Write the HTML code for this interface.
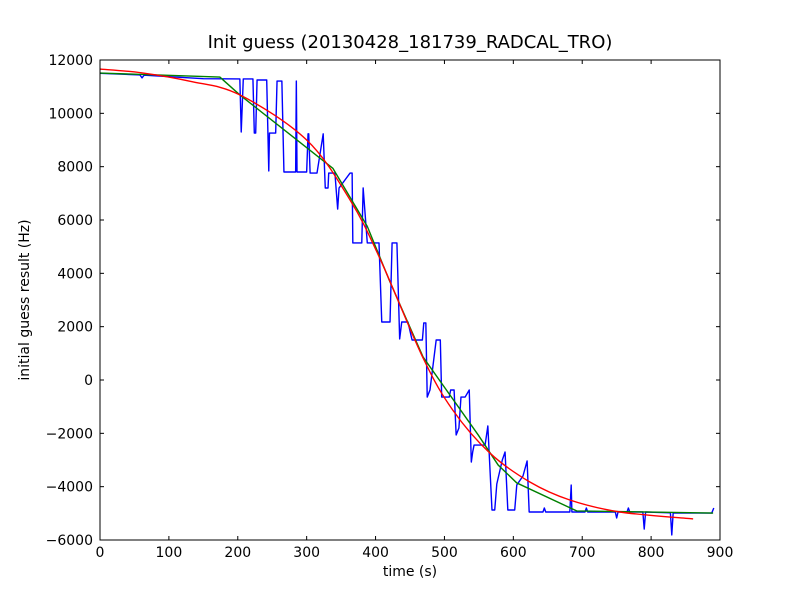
<!DOCTYPE html>
<html><head><meta charset="utf-8"><style>
body{margin:0;background:#fff;}
svg{display:block;font-family:"DejaVu Sans","Liberation Sans",sans-serif;}
</style></head><body>
<svg id="chart" width="800" height="600" viewBox="0 0 800 600">
<rect x="0" y="0" width="800" height="600" fill="#fff"/>
<text x="410" y="48" text-anchor="middle" font-size="18">Init guess (20130428_181739_RADCAL_TRO)</text>
<text x="410" y="576" text-anchor="middle" font-size="14">time (s)</text>
<text transform="translate(29,300) rotate(-90)" text-anchor="middle" font-size="14">initial guess result (Hz)</text>
<g id="plot"></g>
</svg>
<script>
const xTicks=[0,100,200,300,400,500,600,700,800,900];
const yTicks=[-6000,-4000,-2000,0,2000,4000,6000,8000,10000,12000];
const blueT=[0,58,61,64,150,203,205,208,222,224,226,228,242,245,246,255,257,264,267,284,285,286,300,302,303,305,315,324,327,331,332,341,345,347,363,366,367,380,382,388,405,409,421,424,431,435,438,447,453,468,470,473,475,479,488,494,496,507,509,514,517,521,524,530,536,539,541,543,559,563,569,573,576,584,588,592,602,605,614,620,623,643,645,647,682,684,685,704,706,708,748,750,752,765,767,769,788,790,792,828,830,832,888,891];
const blueV=[11500,11440,11330,11430,11300,11290,9300,11290,11290,9260,9260,11250,11250,7840,9260,9260,11210,11210,7800,7800,11210,7800,7800,9230,9230,7760,7760,9230,7200,7200,7760,7760,6410,7200,7760,7760,5140,5140,7200,5140,5140,2175,2175,5140,5140,1540,2175,2175,1500,1500,2140,2140,-640,-375,1500,1500,-640,-640,-375,-375,-2060,-1800,-640,-640,-375,-3075,-2700,-2440,-2440,-1725,-4875,-4875,-3900,-3000,-2700,-4875,-4875,-3937,-3600,-3037,-4950,-4950,-4800,-4950,-4950,-3940,-4950,-4950,-4800,-4950,-4950,-5175,-4950,-4950,-4800,-4950,-4950,-5590,-4950,-4980,-5810,-4990,-4990,-4800];
const greenT=[0,174,203,338,388,421,469,549,578,605,692,890];
const greenV=[11510,11360,10690,7940,5760,3675,860,-2060,-3190,-3860,-4910,-4990];
const redT=[0,60,131,203,300,363,406,469,512,566,624,682,755,861];
const redV=[11660,11520,11200,10690,9000,6750,4575,825,-1125,-2740,-3825,-4500,-4950,-5210];

const X0=100,X1=720,Y0=540,Y1=60;
const xs=t=>X0+(t-0)/(900-0)*(X1-X0);
const ys=v=>Y0-(v+6000)/18000*(Y0-Y1);
const NS="http://www.w3.org/2000/svg";
const g=document.getElementById('plot');
function mk(tag,attrs){const e=document.createElementNS(NS,tag);for(const k in attrs)e.setAttribute(k,attrs[k]);g.appendChild(e);return e;}

function poly(T,V,color,name){
  const e=mk('polyline',{points:T.map((t,i)=>xs(t)+','+ys(V[i])).join(' '),fill:'none',stroke:color,'stroke-width':1.4,'stroke-linejoin':'round'});
  
  
}
function smooth(T,V,color,name){
  const P=T.map((t,i)=>[xs(t),ys(V[i])]);
  let d='M'+P[0][0]+','+P[0][1];
  for(let i=0;i<P.length-1;i++){
    const p0=P[Math.max(0,i-1)],p1=P[i],p2=P[i+1],p3=P[Math.min(P.length-1,i+2)];
    const c1=[p1[0]+(p2[0]-p0[0])/6,p1[1]+(p2[1]-p0[1])/6];
    const c2=[p2[0]-(p3[0]-p1[0])/6,p2[1]-(p3[1]-p1[1])/6];
    d+=' C'+c1+' '+c2+' '+p2;
  }
  const e=mk('path',{d:d,fill:'none',stroke:color,'stroke-width':1.4});
  
  
}
poly(blueT,blueV,'#0000ff','series-blue-raw');
poly(greenT,greenV,'#008000','series-green-fit');
smooth(redT,redV,'#ff0000','series-red-fit');

const frame=mk('rect',{x:X0,y:Y1,width:X1-X0,height:Y0-Y1,fill:'none',stroke:'#000','stroke-width':1});



xTicks.forEach(t=>{
  const x=xs(t);
  const a=mk('line',{x1:x,y1:Y0,x2:x,y2:Y0-4,stroke:'#000'});
  
  
  const b=mk('line',{x1:x,y1:Y1,x2:x,y2:Y1+4,stroke:'#000'});
  
  
  const l=mk('text',{x:x,y:Y0+17,'text-anchor':'middle','font-size':14});
  l.textContent=t;
  
  
});
yTicks.forEach(v=>{
  const y=ys(v);
  const a=mk('line',{x1:X0,y1:y,x2:X0+4,y2:y,stroke:'#000'});
  
  
  const b=mk('line',{x1:X1,y1:y,x2:X1-4,y2:y,stroke:'#000'});
  
  
  const l=mk('text',{x:X0-7,y:y+5,'text-anchor':'end','font-size':14});
  l.textContent=(v<0?'\u2212'+(-v):v);
  
  
});
</script>
</body></html>
